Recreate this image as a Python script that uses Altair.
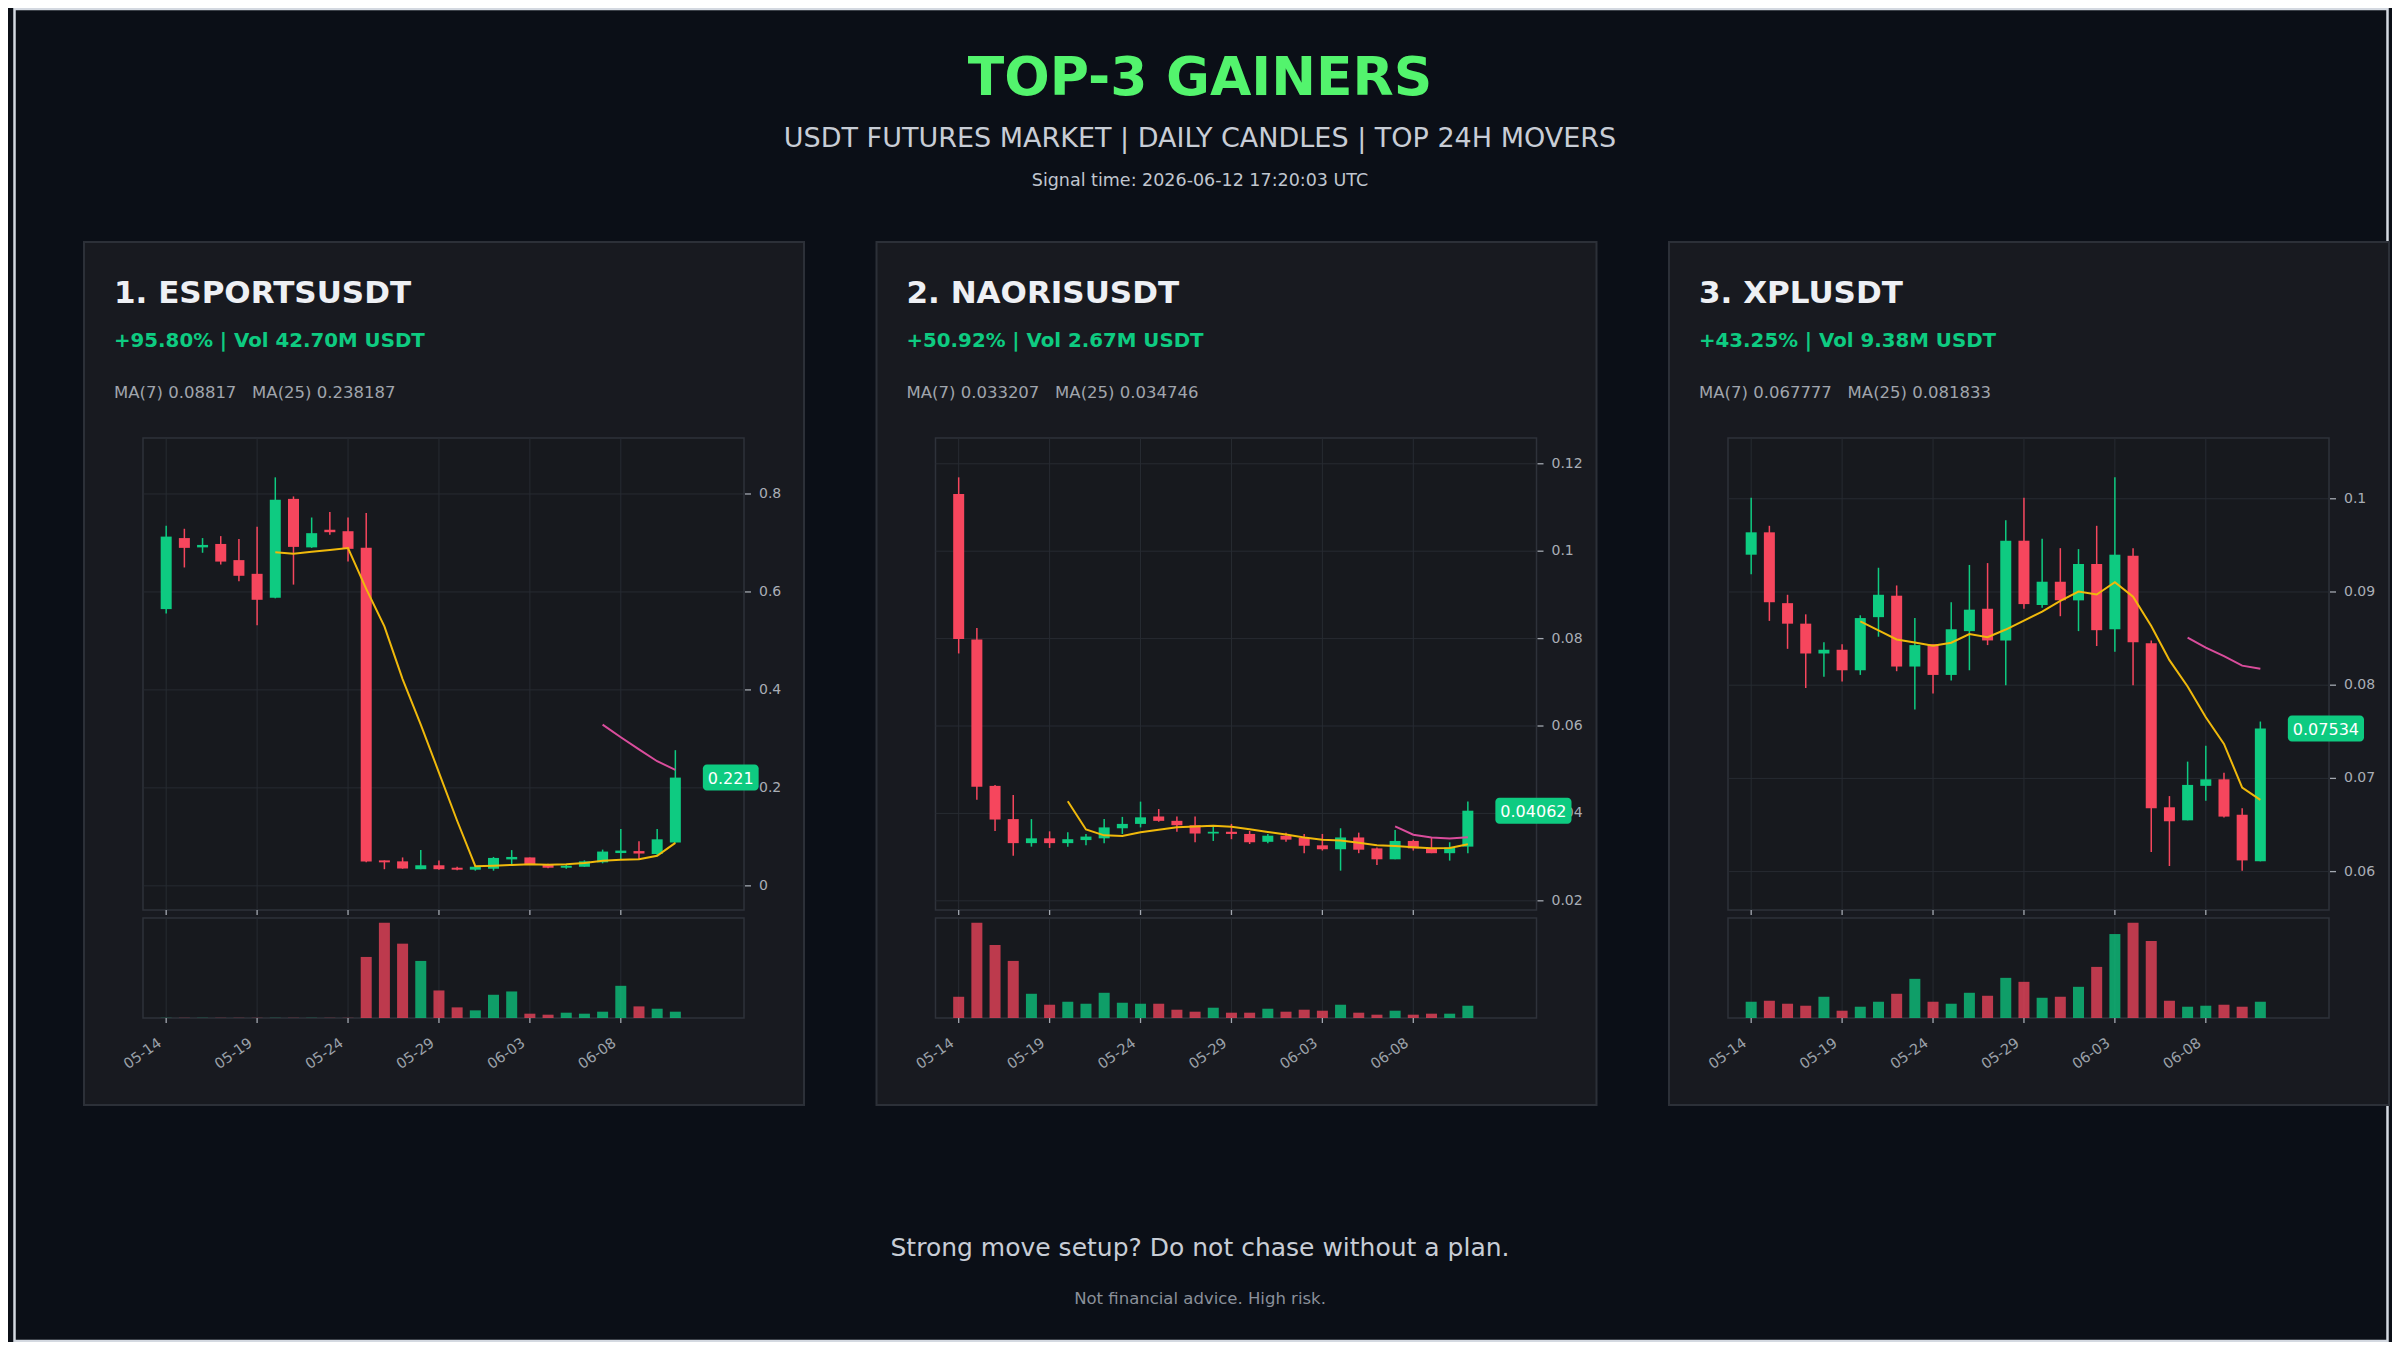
import altair as alt
import pandas as pd

# ---------------- data ----------------
dates = [
    "2026-05-14", "2026-05-15", "2026-05-16", "2026-05-17", "2026-05-18", "2026-05-19",
    "2026-05-20", "2026-05-21", "2026-05-22", "2026-05-23", "2026-05-24", "2026-05-25",
    "2026-05-26", "2026-05-27", "2026-05-28", "2026-05-29", "2026-05-30", "2026-05-31",
    "2026-06-01", "2026-06-02", "2026-06-03", "2026-06-04", "2026-06-05", "2026-06-06",
    "2026-06-07", "2026-06-08", "2026-06-09", "2026-06-10", "2026-06-11",
]
x_tick_dates = ["2026-05-14", "2026-05-19", "2026-05-24", "2026-05-29", "2026-06-03", "2026-06-08"]
x_tick_labels = ["05-14", "05-19", "05-24", "05-29", "06-03", "06-08"]

symbols = ["1. ESPORTSUSDT", "2. NAORISUSDT", "3. XPLUSDT"]
change_texts = ["+95.80% | Vol 42.70M USDT", "+50.92% | Vol 2.67M USDT", "+43.25% | Vol 9.38M USDT"]
ma7_texts = ["MA(7) 0.08817", "MA(7) 0.033207", "MA(7) 0.067777"]
ma25_texts = ["MA(25) 0.238187", "MA(25) 0.034746", "MA(25) 0.081833"]
last_labels = ["0.221", "0.04062", "0.07534"]
y_ticks = [[0, 0.2, 0.4, 0.6, 0.8],
           [0.02, 0.04, 0.06, 0.08, 0.1, 0.12],
           [0.06, 0.07, 0.08, 0.09, 0.1]]

esports_open = [0.565, 0.710, 0.691, 0.698, 0.665, 0.637, 0.588, 0.790, 0.691, 0.727, 0.724, 0.690,
                0.052, 0.050, 0.034, 0.042, 0.037, 0.033, 0.035, 0.054, 0.058, 0.044, 0.037, 0.039,
                0.048, 0.067, 0.071, 0.065, 0.0885]
esports_high = [0.735, 0.729, 0.710, 0.714, 0.708, 0.733, 0.834, 0.795, 0.752, 0.763, 0.752, 0.761,
                0.052, 0.058, 0.073, 0.052, 0.039, 0.041, 0.059, 0.073, 0.058, 0.045, 0.044, 0.052,
                0.074, 0.116, 0.091, 0.116, 0.277]
esports_low = [0.556, 0.650, 0.680, 0.656, 0.622, 0.532, 0.587, 0.615, 0.690, 0.717, 0.662, 0.048,
               0.034, 0.035, 0.034, 0.033, 0.032, 0.031, 0.031, 0.042, 0.043, 0.036, 0.035, 0.039,
               0.046, 0.053, 0.054, 0.063, 0.088]
esports_close = [0.713, 0.690, 0.696, 0.662, 0.633, 0.584, 0.788, 0.692, 0.720, 0.722, 0.688, 0.0497,
                 0.048, 0.0354, 0.042, 0.034, 0.033, 0.039, 0.057, 0.059, 0.044, 0.037, 0.041, 0.050,
                 0.070, 0.072, 0.066, 0.095, 0.221]
esports_volume = [0.5, 0.5, 0.5, 0.5, 0.5, 0.5, 0.5, 0.5, 0.5, 0.5, 0.5, 184,
                  287, 224, 172, 83, 32, 23, 70, 80, 13, 10, 16, 13,
                  19, 97, 35, 28, 19]

naoris_open = [0.1131, 0.0798, 0.0463, 0.0387, 0.0332, 0.0343, 0.0332, 0.0339, 0.0343, 0.0366,
               0.0376, 0.0393, 0.0383, 0.0373, 0.0354, 0.0358, 0.0353, 0.0335, 0.0349, 0.0344,
               0.0327, 0.0318, 0.0345, 0.0320, 0.0295, 0.0337, 0.0320, 0.0309, 0.0324]
naoris_high = [0.1169, 0.0824, 0.0465, 0.0442, 0.0387, 0.0359, 0.0357, 0.0353, 0.0387, 0.0392,
               0.0427, 0.0410, 0.0393, 0.0393, 0.0373, 0.0376, 0.0360, 0.0353, 0.0356, 0.0353,
               0.0353, 0.0366, 0.0356, 0.0322, 0.0362, 0.0340, 0.0345, 0.0334, 0.0427]
naoris_low = [0.0766, 0.0431, 0.0360, 0.0303, 0.0324, 0.0321, 0.0324, 0.0327, 0.0332, 0.0353,
              0.0368, 0.0381, 0.0358, 0.0334, 0.0337, 0.0341, 0.0330, 0.0332, 0.0335, 0.0309,
              0.0315, 0.0269, 0.0309, 0.0282, 0.0295, 0.0315, 0.0309, 0.0292, 0.0309]
naoris_close = [0.0799, 0.0461, 0.0386, 0.0332, 0.0343, 0.0332, 0.0341, 0.0347, 0.0368, 0.0376,
                0.0391, 0.0383, 0.0373, 0.0354, 0.0358, 0.0353, 0.0334, 0.0349, 0.0340, 0.0326,
                0.0318, 0.0345, 0.0317, 0.0295, 0.0337, 0.0320, 0.0309, 0.0322, 0.04062]
naoris_volume = [64, 287, 220, 172, 73, 40, 49, 43, 76, 46, 43, 43, 25, 19, 31, 16, 16, 28, 19, 25,
                 22, 40, 16, 10, 22, 10, 13, 13, 37]

xpl_open = [0.0940, 0.0964, 0.0888, 0.0866, 0.0834, 0.0838, 0.0816, 0.0873, 0.0896, 0.0820,
            0.0844, 0.0811, 0.0858, 0.0882, 0.0848, 0.0955, 0.0886, 0.0911, 0.0891, 0.0930,
            0.0860, 0.0939, 0.0845, 0.0669, 0.0655, 0.0692, 0.0699, 0.0661, 0.0611]
xpl_high = [0.1001, 0.0971, 0.0897, 0.0876, 0.0846, 0.0844, 0.0875, 0.0926, 0.0907, 0.0872,
            0.0844, 0.0889, 0.0929, 0.0931, 0.0977, 0.1001, 0.0957, 0.0947, 0.0946, 0.0971,
            0.1023, 0.0947, 0.0848, 0.0681, 0.0718, 0.0735, 0.0706, 0.0668, 0.0761]
xpl_low = [0.0919, 0.0869, 0.0839, 0.0797, 0.0809, 0.0804, 0.0811, 0.0852, 0.0815, 0.0774,
           0.0791, 0.0805, 0.0816, 0.0843, 0.0800, 0.0882, 0.0883, 0.0874, 0.0858, 0.0842,
           0.0836, 0.0800, 0.0621, 0.0606, 0.0655, 0.0676, 0.0658, 0.0601, 0.0611]
xpl_close = [0.0964, 0.0889, 0.0866, 0.0834, 0.0838, 0.0816, 0.0872, 0.0897, 0.0820, 0.0843,
             0.0811, 0.0860, 0.0881, 0.0848, 0.0955, 0.0887, 0.0911, 0.0891, 0.0930, 0.0859,
             0.0940, 0.0846, 0.0668, 0.0654, 0.0693, 0.0699, 0.0659, 0.0612, 0.07534]
xpl_volume = [49, 52, 43, 37, 64, 22, 34, 49, 73, 118, 49, 43, 76, 67, 121, 109, 61, 64, 94, 154,
              253, 287, 232, 52, 34, 37, 40, 34, 49]

# ---------------- style ----------------
W, H = 2384, 1334
FONT = "DejaVu Sans"
BG = "#0b0f17"
CARD = "#181a20"
CARD_BORDER = "#2c3038"
FRAME_BG = "#17191e"
FRAME_BORDER = "#2e323a"
GRID = "#272b32"
UP = "#0ecb81"
DOWN = "#f6465d"
MA7_COLOR = "#f0b90b"
MA25_COLOR = "#da4d9c"
TICK = "#a3a8b0"
LABEL = "#a9aeb6"
XLABEL = "#9ba1a9"
NBSP = "\u00a0"

ONE = alt.Data(values=[{}])


def dt(s, hours=0):
    y, m, d = s.split("-")
    return alt.DateTime(year=int(y), month=int(m), date=int(d), hours=hours, utc=True)


def txt(s, x, y, size, color, weight="normal", align="left"):
    return alt.Chart(ONE).mark_text(
        text=s, x=x, y=y, align=align, baseline="alphabetic", font=FONT,
        fontSize=size, fontWeight=weight, color=color,
    )


def box(x0, y0, x1, y1, fill, stroke, sw, opacity=1):
    return alt.Chart(ONE).mark_rect(
        x=x0, y=y0, x2=x1, y2=y1, fill=fill, fillOpacity=opacity, stroke=stroke, strokeWidth=sw
    )


def card_left(i):
    return 76 + 792.5 * i


def panel(i, o, h, l, c, v):
    L = card_left(i)
    fx0, fx1 = L + 59, L + 660
    cy0, cy1 = 430, 902
    vy0, vy1 = 910, 1010
    df = pd.DataFrame({"date": dates, "open": o, "high": h, "low": l, "close": c, "volume": v})
    lo, hi = min(l), max(h)
    pad = 0.1 * (hi - lo)
    xs = alt.Scale(type="utc", domain=[dt("2026-05-13"), dt("2026-06-14", 12)], range=[fx0, fx1])
    ys = alt.Scale(domain=[lo - pad, hi + pad], range=[cy1, cy0])
    vs = alt.Scale(domain=[0, max(v) * 1.05], range=[vy1, vy0])

    X = alt.X("date:T", scale=xs, axis=None)

    def Y(f):
        return alt.Y(f, scale=ys, axis=None)

    color = alt.condition(alt.datum.close >= alt.datum.open, alt.value(UP), alt.value(DOWN))
    base = alt.Chart(df)

    ydf = pd.DataFrame({"v": y_ticks[i], "t": [f"{t:g}" for t in y_ticks[i]]})
    xdf = pd.DataFrame({"date": x_tick_dates, "t": x_tick_labels})

    hgrid = alt.Chart(ydf).mark_rule(color=GRID, strokeWidth=1, x=fx0, x2=fx1).encode(y=Y("v:Q"))
    vgrid = alt.Chart(xdf).mark_rule(color=GRID, strokeWidth=1, y=cy0, y2=cy1).encode(x=X)
    ytk = alt.Chart(ydf).mark_rule(color=TICK, strokeWidth=1.3, x=fx1 + 1, x2=fx1 + 7).encode(y=Y("v:Q"))
    ylab = alt.Chart(ydf).mark_text(
        align="left", baseline="middle", x=fx1 + 15, font=FONT, fontSize=14, color=LABEL
    ).encode(y=Y("v:Q"), text="t:N")
    xtk = alt.Chart(xdf).mark_rule(color=TICK, strokeWidth=1.3, y=cy1, y2=cy1 + 5).encode(x=X)

    wick = base.mark_rule(strokeWidth=1.5).encode(x=X, y=Y("low:Q"), y2="high:Q", color=color)
    body = base.mark_bar(size=11).encode(x=X, y=Y("open:Q"), y2="close:Q", color=color)
    ma = base.transform_window(
        ma7="mean(close)", n7="count()", frame=[-6, 0], sort=[alt.SortField("date")]
    ).transform_window(
        ma25="mean(close)", n25="count()", frame=[-24, 0], sort=[alt.SortField("date")]
    )
    ma7 = ma.transform_filter("datum.n7 >= 7").mark_line(
        color=MA7_COLOR, strokeWidth=2
    ).encode(x=X, y=Y("ma7:Q"))
    ma25 = ma.transform_filter("datum.n25 >= 25").mark_line(
        color=MA25_COLOR, strokeWidth=2
    ).encode(x=X, y=Y("ma25:Q"))

    lab = last_labels[i]
    bw = (sum(ch.isdigit() for ch in lab) * 0.636 + lab.count(".") * 0.318) * 16 + 10
    last = pd.DataFrame({"date": [dates[-1]], "close": [c[-1]], "label": [lab]})
    tag = alt.Chart(last).mark_rect(
        color=UP, cornerRadius=4, xOffset=27.5, x2Offset=27.5 + bw, yOffset=-13, y2Offset=13
    ).encode(x=X, x2="date:T", y=Y("close:Q"), y2="close:Q")
    tag_text = alt.Chart(last).mark_text(
        align="center", baseline="middle", dx=27.5 + bw / 2, dy=1, font=FONT, fontSize=16,
        color="#ffffff"
    ).encode(x=X, y=Y("close:Q"), text="label:N")

    candles = alt.layer(hgrid, vgrid, ytk, ylab, xtk, wick, body, ma7, ma25, tag, tag_text)

    vgrid_v = alt.Chart(xdf).mark_rule(color=GRID, strokeWidth=1, y=vy0, y2=vy1).encode(x=X)
    xtk_v = alt.Chart(xdf).mark_rule(color=TICK, strokeWidth=1.3, y=vy1, y2=vy1 + 5).encode(x=X)
    xlab = alt.Chart(xdf).mark_text(
        align="right", baseline="middle", angle=325, y=vy1 + 24, xOffset=-6, font=FONT,
        fontSize=14.5, color=XLABEL
    ).encode(x=X, text="t:N")
    vbars = base.mark_bar(size=11, opacity=0.75).encode(
        x=X, y=alt.Y("volume:Q", scale=vs, axis=None), color=color
    )
    volume = alt.layer(vgrid_v, xtk_v, xlab, vbars)

    ma_line = ma7_texts[i] + NBSP * 3 + ma25_texts[i]
    decor = [
        box(L, 234, L + 720, 1097, CARD, CARD_BORDER, 2),
        box(fx0, cy0, fx1, cy1, FRAME_BG, FRAME_BORDER, 1.5),
        box(fx0, vy0, fx1, vy1, FRAME_BG, FRAME_BORDER, 1.5),
        txt(symbols[i], L + 30, 295, 31, "#eef0f4", "bold"),
        txt(change_texts[i], L + 30, 339, 19.8, UP, "bold"),
        txt(ma_line, L + 30, 390, 16.5, "#a0a5ad"),
    ]
    return decor, [candles, volume]


panels = [
    (esports_open, esports_high, esports_low, esports_close, esports_volume),
    (naoris_open, naoris_high, naoris_low, naoris_close, naoris_volume),
    (xpl_open, xpl_high, xpl_low, xpl_close, xpl_volume),
]

layers = [box(6.5, 1, 2379.5, 1333, BG, "#d4d9e1", 2.5, 0)]
charts = []
for i, p in enumerate(panels):
    d, ch = panel(i, *p)
    layers += d
    charts += ch

layers += [
    txt("TOP-3 GAINERS", 1192, 87, 53.5, "#53f46d", "bold", "center"),
    txt("USDT FUTURES MARKET | DAILY CANDLES | TOP 24H MOVERS", 1192, 139, 27, "#c8cdd6", "normal", "center"),
    txt("Signal time: 2026-06-12 17:20:03 UTC", 1192, 178, 17.5, "#c0c6cf", "normal", "center"),
    txt("Strong move setup? Do not chase without a plan.", 1192, 1248, 25, "#c8cdd6", "normal", "center"),
    txt("Not financial advice. High risk.", 1192, 1296, 16.5, "#8a909a", "normal", "center"),
]

chart = alt.layer(*layers, *charts).resolve_scale(
    x="independent", y="independent"
).properties(
    width=W, height=H, background=BG, padding=0,
    autosize=alt.AutoSizeParams(type="none"),
).configure_view(stroke="transparent")

chart.save("out.html", embed_options={"renderer": "svg", "actions": False})
